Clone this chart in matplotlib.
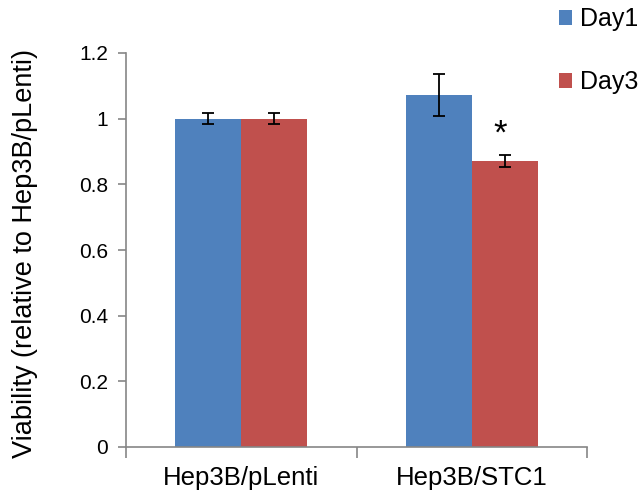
import matplotlib.pyplot as plt
import numpy as np

# donnees
groupes = ["Hep3B/pLenti", "Hep3B/STC1"]
jours = ["Day1", "Day3"]
day1 = [1.0, 1.072]
day1_err = [0.016, 0.063]
day3 = [1.0, 0.870]
day3_err = [0.016, 0.018]
etoile = ["", "*"]

plt.rcParams['font.family'] = ['Liberation Sans', 'DejaVu Sans']

bleu = "#4F81BD"
rouge = "#C0504D"
gris = "#868686"

fig = plt.figure(figsize=(6.44, 4.98), dpi=100)
ax = fig.add_axes([126/644, 1-447/498, 461/644, 394/498])

centres = np.arange(len(groupes)) + 0.5
larg = 0.287
ax.bar(centres - larg/2, day1, width=larg, color=bleu, label=jours[0],
       yerr=day1_err, error_kw=dict(ecolor="black", elinewidth=1.3, capsize=4.5, capthick=1.3))
ax.bar(centres + larg/2, day3, width=larg, color=rouge, label=jours[1],
       yerr=day3_err, error_kw=dict(ecolor="black", elinewidth=1.3, capsize=4.5, capthick=1.3))

# etoile de signification au-dessus de la barre Day3
for i, s in enumerate(etoile):
    if s:
        ax.text(centres[i] + larg/2 - 0.02, day3[i] + day3_err[i] + 0.015, s,
                ha="center", va="bottom", fontsize=25)

ax.set_xlim(0, len(groupes))
ax.set_ylim(0, 1.2)
ax.set_yticks(np.arange(0, 1.21, 0.2))
ax.set_yticklabels(["0", "0.2", "0.4", "0.6", "0.8", "1", "1.2"])
ax.set_xticks(np.arange(len(groupes) + 1))
ax.set_xticklabels([])
ax.set_xticks(centres, minor=True)
ax.set_xticklabels(groupes, minor=True)

for c in ["top", "right"]:
    ax.spines[c].set_visible(False)
for c in ["left", "bottom"]:
    ax.spines[c].set_color(gris)
    ax.spines[c].set_linewidth(1.2)

ax.tick_params(axis="y", direction="out", length=6, width=1.2, color=gris, labelsize=15, pad=7)
ax.tick_params(axis="x", which="major", direction="out", length=8, width=1.2, color=gris)
ax.tick_params(axis="x", which="minor", length=0, labelsize=18.5, pad=14)

ax.set_ylabel("Viability (relative to Hep3B/pLenti)", fontsize=19.5)
ax.yaxis.set_label_coords(-0.19, 0.492)

fig.legend(loc="upper left", bbox_to_anchor=(556/644, 0.99), frameon=False, fontsize=18,
           handlelength=0.55, handleheight=0.55, handletextpad=0.3, labelspacing=1.55,
           borderaxespad=0, borderpad=0.1)

plt.savefig("out.png", dpi=100)
